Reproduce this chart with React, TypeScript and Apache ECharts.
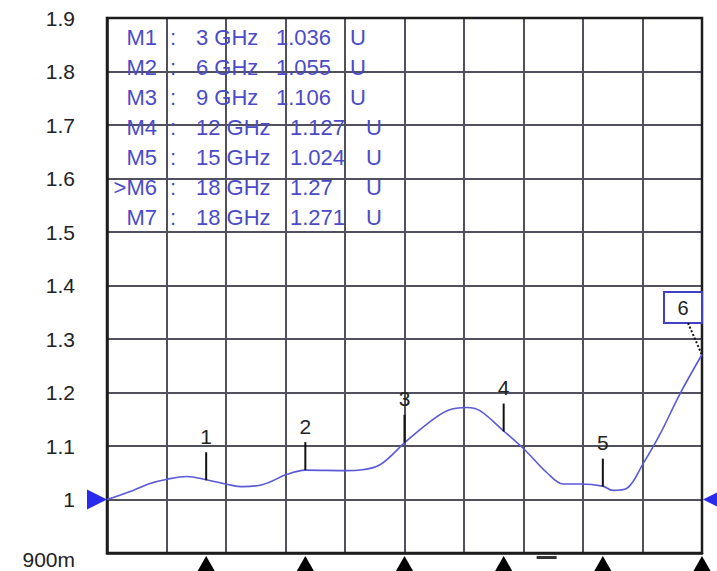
import React, { useEffect, useRef } from "react";
import * as echarts from "echarts";

// Trace: frequency (GHz) and VSWR (U)
const freqs = [0, 0.79, 1.3, 1.82, 2.42, 3, 3.66, 4.11, 4.72, 5.45, 6, 7.26, 7.65, 8.26, 9, 9.68, 10.29, 10.89, 11.28, 12, 12.65, 13.31, 13.8, 14.31, 15, 15.3, 15.73, 16.21, 16.73, 17.33, 18];
const vswr = [1.0, 1.017, 1.03, 1.038, 1.043, 1.037, 1.028, 1.024, 1.028, 1.047, 1.055, 1.054, 1.055, 1.065, 1.106, 1.141, 1.166, 1.172, 1.166, 1.128, 1.092, 1.05, 1.029, 1.029, 1.025, 1.017, 1.021, 1.066, 1.122, 1.197, 1.271];

// Marker table
const markerNames = ["M1", "M2", "M3", "M4", "M5", ">M6", "M7"];
const markerFreqs = [3, 6, 9, 12, 15, 18, 18];
const markerReadouts = ["1.036", "1.055", "1.106", "1.127", "1.024", "1.27", "1.271"];
const markerUnit = "U";

// Markers shown on trace
const traceMarkerIds = [1, 2, 3, 4, 5, 6];
const traceMarkerFreqs = [3, 6, 9, 12, 15, 18];
const traceMarkerVals = [1.036, 1.055, 1.106, 1.127, 1.024, 1.27];

// Axis
const yMin = 0.9;
const yMax = 1.9;
const yStep = 0.1;
const xMin = 0;
const xMax = 18;
const xStep = 1.8;
const refLevel = 1.0;
const extraMarkFreq = 13.3;

const FONT = "Liberation Sans, Arial, sans-serif";
const BLUE_TEXT = "#4b4bc8";
const TRACE = "#5a5ad6";
const GRIDC = "#50505e";

export default function App() {
  const ref = useRef<HTMLDivElement>(null);
  useEffect(() => {
    if (!ref.current) return;
    const chart = echarts.init(ref.current, undefined, { renderer: "svg" });

    const tableGraphics: any[] = [];
    markerNames.forEach((name, i) => {
      const y = 37 + i * 30;
      const two = markerFreqs[i] >= 10;
      const style = { fill: BLUE_TEXT, fontSize: 22, fontFamily: FONT, verticalAlign: "middle" };
      tableGraphics.push({ type: "text", x: 157, y, z: 50, style: { ...style, text: name, align: "right" } });
      tableGraphics.push({ type: "text", x: 173, y, z: 50, style: { ...style, text: ":", align: "center" } });
      tableGraphics.push({ type: "text", x: 196, y, z: 50, style: { ...style, text: markerFreqs[i] + " GHz", align: "left" } });
      tableGraphics.push({ type: "text", x: two ? 290 : 276, y, z: 50, style: { ...style, text: markerReadouts[i], align: "left" } });
      tableGraphics.push({ type: "text", x: two ? 366 : 350, y, z: 50, style: { ...style, text: markerUnit, align: "left" } });
    });

    const markerData = traceMarkerIds.map((id, i) => [traceMarkerFreqs[i], traceMarkerVals[i], id]);

    chart.setOption({
      animation: false,
      backgroundColor: "#ffffff",
      grid: {
        left: 107,
        top: 18,
        width: 595,
        height: 535,
        show: true,
        borderColor: "#1c1c1c",
        borderWidth: 2.5,
        backgroundColor: "transparent",
        z: 3,
      },
      xAxis: {
        type: "value",
        min: xMin,
        max: xMax,
        interval: xStep,
        axisLine: { show: true, lineStyle: { color: "#1c1c1c", width: 2.5 } },
        axisTick: { show: false },
        axisLabel: { show: false },
        splitLine: { show: true, lineStyle: { color: GRIDC, width: 2 } },
      },
      yAxis: {
        type: "value",
        min: yMin,
        max: yMax,
        interval: yStep,
        axisLine: { show: true, lineStyle: { color: "#1c1c1c", width: 2.5 } },
        axisTick: { show: false },
        splitLine: { show: true, lineStyle: { color: GRIDC, width: 2 } },
        axisLabel: {
          margin: 32,
          color: "#222",
          fontSize: 21,
          fontFamily: FONT,
          formatter: (v: number) => {
            if (Math.abs(v - 0.9) < 1e-6) return "{m|900m}";
            if (Math.abs(v - 1) < 1e-6) return "1";
            return v.toFixed(1);
          },
          rich: { m: { fontSize: 21, fontFamily: FONT, color: "#222", padding: [12, 0, 0, 0] } },
        },
      },
      graphic: tableGraphics,
      series: [
        {
          type: "line",
          data: freqs.map((f, i) => [f, vswr[i]]),
          smooth: 0.35,
          showSymbol: false,
          lineStyle: { color: TRACE, width: 1.6 },
          z: 10,
        },
        {
          type: "custom",
          data: markerData,
          z: 20,
          renderItem: (params: any, api: any) => {
            const f = api.value(0);
            const v = api.value(1);
            const id = api.value(2);
            const p = api.coord([f, v]);
            const b = api.coord([f, yMin]);
            const children: any[] = [
              {
                type: "polygon",
                shape: { points: [[p[0], b[1] + 3], [p[0] - 12, b[1] + 24], [p[0] + 12, b[1] + 24]] },
                style: { fill: "#000" },
              },
            ];
            if (id <= 5) {
              children.push({
                type: "line",
                shape: { x1: p[0], y1: p[1] - 28, x2: p[0], y2: p[1] },
                style: { stroke: "#111", lineWidth: 2 },
              });
              children.push({
                type: "text",
                x: p[0],
                y: p[1] - 44,
                style: { text: String(id), fill: "#222", fontSize: 21, fontFamily: FONT, align: "center", verticalAlign: "middle" },
              });
            } else {
              children.push({
                type: "rect",
                shape: { x: p[0] - 38, y: p[1] - 63, width: 38, height: 31 },
                style: { fill: "#fff", stroke: "#4040c0", lineWidth: 2 },
              });
              children.push({
                type: "text",
                x: p[0] - 19,
                y: p[1] - 47,
                style: { text: String(id), fill: "#222", fontSize: 20, fontFamily: FONT, align: "center", verticalAlign: "middle" },
              });
              children.push({
                type: "line",
                shape: { x1: p[0] - 14, y1: p[1] - 32, x2: p[0], y2: p[1] },
                style: { stroke: "#111", lineWidth: 2, lineDash: [2, 2] },
              });
            }
            return { type: "group", children };
          },
        },
        {
          type: "custom",
          data: [[refLevel, extraMarkFreq]],
          z: 20,
          renderItem: (params: any, api: any) => {
            const lvl = api.value(0);
            const em = api.value(1);
            const l = api.coord([xMin, lvl]);
            const r = api.coord([xMax, lvl]);
            const m = api.coord([em, yMin]);
            return {
              type: "group",
              children: [
                {
                  type: "polygon",
                  shape: { points: [[l[0], l[1]], [l[0] - 20, l[1] - 10], [l[0] - 20, l[1] + 10]] },
                  style: { fill: "#2b2bef" },
                },
                {
                  type: "polygon",
                  shape: { points: [[r[0] + 1, r[1]], [r[0] + 21, r[1] - 10], [r[0] + 21, r[1] + 10]] },
                  style: { fill: "#2b2bef" },
                },
                {
                  type: "rect",
                  shape: { x: m[0] - 10, y: m[1] + 3, width: 20, height: 3 },
                  style: { fill: "#333" },
                },
              ],
            };
          },
        },
      ],
    });
    return () => chart.dispose();
  }, []);

  return (
    <div
      ref={ref}
      style={{ position: "fixed", left: 0, top: 0, width: 717, height: 571, background: "#fff" }}
    />
  );
}
